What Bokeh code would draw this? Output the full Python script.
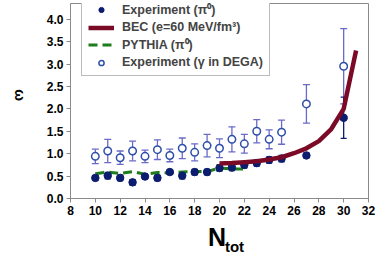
import math
from bokeh.plotting import figure
from bokeh.models import (ColumnDataSource, Whisker, TeeHead, Legend, LegendItem,
                          Range1d, FixedTicker, LinearAxis, CustomJSTickFormatter)
from bokeh.embed import file_html
from bokeh.resources import INLINE

# ---- data ----
pi0_x = [10, 11, 12, 13, 14, 15, 16, 17, 18, 19, 20, 21, 22, 23, 24, 25, 27, 30]
pi0_y = [0.46, 0.51, 0.46, 0.36, 0.49, 0.46, 0.59, 0.51, 0.59, 0.59, 0.68, 0.69,
         0.75, 0.79, 0.86, 0.89, 0.96, 1.80]
pi0_err = [0.05, 0.07, 0.06, 0.06, 0.05, 0.06, 0.05, 0.07, 0.06, 0.06, 0.07, 0.07,
           0.07, 0.07, 0.07, 0.07, 0.05, 0.46]

dega_x = [10, 11, 12, 13, 14, 15, 16, 17, 18, 19, 20, 21, 22, 23, 24, 25, 27, 30]
dega_y = [0.94, 1.06, 0.91, 1.06, 0.94, 1.09, 0.96, 1.12, 1.03, 1.18, 1.12, 1.32,
          1.22, 1.50, 1.32, 1.48, 2.11, 2.95]
dega_err = [0.16, 0.26, 0.15, 0.22, 0.14, 0.22, 0.14, 0.23, 0.19, 0.25, 0.21, 0.28,
            0.21, 0.26, 0.21, 0.27, 0.43, 0.84]

bec_x = [20, 21, 22, 23, 24, 25, 26, 27, 28, 29, 30, 31]
bec_y = [0.78, 0.79, 0.81, 0.83, 0.87, 0.92, 1.01, 1.12, 1.28, 1.55, 2.00, 3.30]

pythia_x = [10, 11, 12, 13, 14, 15, 16, 17, 18, 19, 20, 21, 22]
pythia_y = [0.55, 0.59, 0.56, 0.60, 0.54, 0.58, 0.57, 0.59, 0.60, 0.60, 0.68, 0.66, 0.66]

x_ticks = [8, 10, 12, 14, 16, 18, 20, 22, 24, 26, 28, 30, 32]
y_ticks = [0.0, 0.5, 1.0, 1.5, 2.0, 2.5, 3.0, 3.5, 4.0]

legend_labels = ["Experiment (\u03c0\u2070)", "BEC (e=60 MeV/fm\u00b3)",
                 "PYTHIA (\u03c0\u2070)", "Experiment (\u03b3 in DEGA)"]
y_title = "\u03c9"
x_title_main = "N"
x_title_sub = "tot"

NAVY = "#0c1c6e"
OPEN_EDGE = "#2f4fa8"
OPEN_ERR = "#6a6ac8"
BEC_COL = "#7a0a26"
PYTHIA_COL = "#1d7d1d"
AXIS_COL = "#8a8a8a"
FONT = "Liberation Sans"

p = figure(width=382, height=262, output_backend="svg", toolbar_location=None,
           x_range=Range1d(8, 32), y_range=Range1d(0, 4.35),
           min_border_left=69, min_border_right=14, min_border_top=3,
           min_border_bottom=64)
p.grid.visible = False
p.outline_line_color = AXIS_COL
p.outline_line_width = 1
p.background_fill_color = "white"
p.border_fill_color = "white"

for ax in (p.xaxis[0], p.yaxis[0]):
    ax.axis_line_color = AXIS_COL
    ax.major_tick_line_color = AXIS_COL
    ax.major_tick_out = 4
    ax.major_tick_in = 0
    ax.minor_tick_line_color = None
    ax.major_label_text_font = FONT
    ax.major_label_text_font_style = "bold"
    ax.major_label_text_font_size = "12px"
    ax.major_label_text_color = "black"
    ax.major_label_standoff = 3
    ax.axis_label_text_font = FONT
    ax.axis_label_text_font_style = "bold"
    ax.axis_label_text_color = "black"

p.xaxis.ticker = FixedTicker(ticks=x_ticks)
p.yaxis.ticker = FixedTicker(ticks=y_ticks)
p.yaxis.formatter = CustomJSTickFormatter(code="return tick.toFixed(1);")

# y title
p.yaxis.axis_label = "\u2003\u2002" + y_title
p.yaxis.axis_label_text_font_size = "14px"
p.yaxis.axis_label_standoff = 24
try:
    p.yaxis[0].axis_label_orientation = -math.pi / 2
except Exception:
    pass

# x title: big N on main axis, subscript on an extra empty axis below
p.xaxis.axis_label = x_title_main + "\u2009"
p.xaxis.axis_label_text_font_size = "25px"
p.xaxis.axis_label_standoff = 5

sub_axis = LinearAxis(ticker=FixedTicker(ticks=[]), axis_line_color=None,
                      major_tick_line_color=None, minor_tick_line_color=None,
                      major_label_text_font_size="0px", major_tick_out=0,
                      major_label_standoff=0,
                      axis_label="\u2003\u2003" + x_title_sub,
                      axis_label_text_font=FONT, axis_label_text_font_style="bold",
                      axis_label_text_font_size="15px", axis_label_text_color="black",
                      axis_label_standoff=-16)
p.add_layout(sub_axis, "below")

src_pi0 = ColumnDataSource(dict(x=pi0_x, y=pi0_y,
                                lo=[a - b for a, b in zip(pi0_y, pi0_err)],
                                hi=[a + b for a, b in zip(pi0_y, pi0_err)]))
src_dega = ColumnDataSource(dict(x=dega_x, y=dega_y,
                                 lo=[a - b for a, b in zip(dega_y, dega_err)],
                                 hi=[a + b for a, b in zip(dega_y, dega_err)]))

w_dega = Whisker(source=src_dega, base="x", lower="lo", upper="hi",
                 line_color=OPEN_ERR, line_width=1.3,
                 upper_head=TeeHead(size=7, line_color=OPEN_ERR, line_width=1.3),
                 lower_head=TeeHead(size=7, line_color=OPEN_ERR, line_width=1.3))
p.add_layout(w_dega)
w_pi0 = Whisker(source=src_pi0, base="x", lower="lo", upper="hi",
                line_color=NAVY, line_width=1.3,
                upper_head=TeeHead(size=6, line_color=NAVY, line_width=1.3),
                lower_head=TeeHead(size=6, line_color=NAVY, line_width=1.3))
p.add_layout(w_pi0)

r_pythia = p.line(pythia_x, pythia_y, line_color=PYTHIA_COL, line_width=3,
                  line_dash="9 5")
r_pi0 = p.scatter("x", "y", source=src_pi0, size=7.5, fill_color=NAVY,
                  line_color=NAVY)
r_dega = p.scatter("x", "y", source=src_dega, size=7.5, fill_color="white",
                   line_color=OPEN_EDGE, line_width=1.5)
r_bec = p.line(bec_x, bec_y, line_color=BEC_COL, line_width=4.5)

legend = Legend(items=[LegendItem(label=legend_labels[0], renderers=[r_pi0]),
                       LegendItem(label=legend_labels[1], renderers=[r_bec]),
                       LegendItem(label=legend_labels[2], renderers=[r_pythia]),
                       LegendItem(label=legend_labels[3], renderers=[r_dega])],
                location=(11, 122), margin=0, padding=6, spacing=2,
                label_height=13, glyph_height=13, glyph_width=26,
                label_standoff=8, label_text_font=FONT,
                label_text_font_style="bold", label_text_font_size="12.5px",
                border_line_color="#777777", border_line_width=1,
                background_fill_alpha=1.0)
p.add_layout(legend)

open("out.html", "w").write(file_html(p, INLINE))
